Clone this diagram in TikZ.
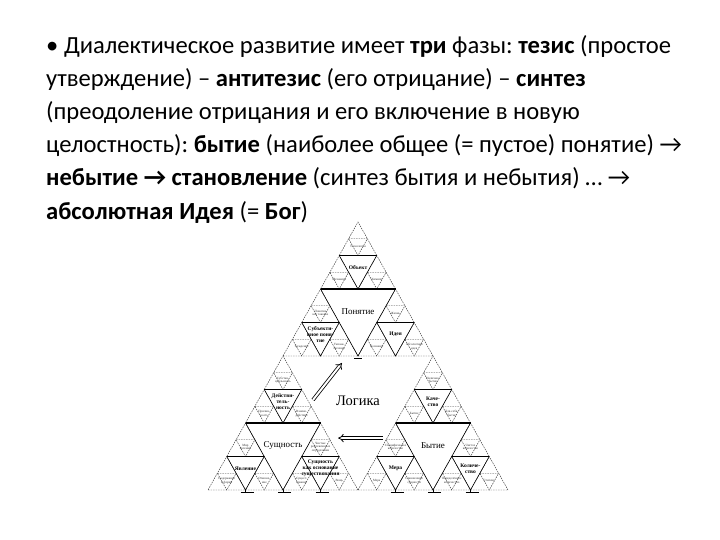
\documentclass[tikz,border=0pt]{standalone}
\usepackage{fontspec}
\setmainfont{Carlito}
\newfontfamily\serifru{Liberation Serif}
\usepackage{tikz}
\usetikzlibrary{arrows.meta}
\definecolor{gray20}{gray}{0.2}

\tikzset{
    fine/.style={dash pattern=on 1.5pt off 1pt, line width=0.45pt, color=gray20},
    side/.style={line width=0.55pt},
    topside/.style={line width=1.1pt},
    biglabel/.style={font=\serifru\fontsize{9}{9}\selectfont, inner sep=0pt},
    midlabel/.style={font=\serifru\bfseries\fontsize{5.5}{5.8}\selectfont, align=center, inner sep=0pt},
    tinylabel/.style={font=\serifru\fontsize{3.2}{3.5}\selectfont, align=center, inner sep=0pt, text=gray20},
    dblarrow/.style={double, double distance=2pt, line width=0.8pt, -{Implies}}
}

\begin{document}
\frenchspacing
\begin{tikzpicture}[x=1pt, y=1pt]
    \useasboundingbox (0,0) rectangle (720,540);

    \node[anchor=north west, inner sep=0pt, align=left,
        font=\fontsize{24.6}{33.2}\selectfont] (thesis) at (46,505)
    {• Диалектическое развитие имеет \textbf{три} фазы: \textbf{тезис} (простое\\
        утверждение) – \textbf{антитезис} (его отрицание) – \textbf{синтез}\\
        (преодоление отрицания и его включение в новую\\
        целостность): \textbf{бытие} (наиболее общее (= пустое) понятие) →\\
        \textbf{небытие → становление} (синтез бытия и небытия) … →\\
        \textbf{абсолютная Идея} (= \textbf{Бог})};

    \begin{scope}[shift={(208pt,50pt)}, x=37.5pt, y=33.5pt]

        % smallest triangles and their inner ones
        \foreach \a/\b in {0/0, 4/0, 2/4} {
                \foreach \c/\d in {0/0, 2/0, 1/2} {
                        \foreach \e/\f in {0/0, 1/0, 0.5/1} {
                                \draw[fine] (\a+\c+\e, \b+\d+\f) -- ++(1, 0) -- ++(-0.5, 1) -- cycle;
                                \draw[fine] (\a+\c+\e+0.25, \b+\d+\f+0.5) -- ++(0.5, 0) -- ++(-0.25, -0.5) -- cycle;
                            }
                    }
            }

        % second level
        \foreach \p/\q/\nm/\lab/\lowl/\lowr/\apx in {
                3/6/obj/{Объект}/{Механизм}/{Химизм}/{Телеология},
                2/4/subj/{Субъекти-\\вное поня-\\тие}/{Суждение}/{Умозак-\\лючение}/{Понятие\\как таковое},
                4/4/idea/{Идея}/{Познание}/{Абсолютная\\идея}/{Жизнь},
                1/2/real/{Действи-\\тель-\\ность}/{Причин-\\ность}/{Взаимо-\\действие}/{Субстан-\\циальность},
                0/0/appear/{Явление}/{Содержание\\и форма}/{Отноше-\\ние}/{Мир\\явлений},
                2/0/ground/{Сущность\\как основание\\существования}/{Сущест-\\вование}/{Вещь}/{Чистые\\рефлексивные\\определения},
                5/2/qual/{Каче-\\ство}/{Бытие}/{Для-себя-\\бытие}/{Наличное\\бытие},
                4/0/meas/{Мера}/{Мера}/{Становление\\сущности}/{Специфическое\\количество},
                6/0/quant/{Количе-\\ство}/{Определённое\\количество}/{Степень}/{Чистое\\количество}} {
                \draw[side] (\p+0.5, \q+1) -- (\p+1, \q) -- (\p+1.5, \q+1);
                \draw[topside] (\p+0.5, \q+1) -- (\p+1.5, \q+1);
                \node[midlabel] (\nm) at (\p+1, \q+0.64) {\lab};
                \node[tinylabel] (\nm-l) at (\p+0.5, \q+0.28) {\lowl};
                \node[tinylabel] (\nm-r) at (\p+1.5, \q+0.28) {\lowr};
                \node[tinylabel] (\nm-t) at (\p+1, \q+1.28) {\apx};
            }

        % first level
        \foreach \a/\b/\nm/\lab in {0/0/essence/Сущность, 4/0/being/Бытие, 2/4/concept/Понятие} {
                \draw[side] (\a+1, \b+2) -- (\a+2, \b) -- (\a+3, \b+2);
                \draw[topside, line width=1.3pt] (\a+1, \b+2) -- (\a+3, \b+2);
                \node[biglabel] (\nm) at (\a+2, \b+1.33) {\lab};
            }

        \node[font=\serifru\fontsize{14.5}{14.5}\selectfont, inner sep=0pt] (logic) at (4, 2.67) {Логика};

        % feet under the lower corners
        \foreach \x in {1, 2, 3, 5, 6, 7} {
                \draw[line width=0.7pt] (\x, 0) ++(-5pt, -2pt) -- ++(13pt, 0);
                \draw[line width=0.5pt] (\x, 0) -- ++(0, -2pt);
            }
        \draw[line width=0.5pt] (4, 4) ++(-4pt, -2pt) -- ++(8pt, 0);

        \coordinate (essence-out) at (2.8, 2.69);
        \coordinate (concept-in) at (3.57, 3.79);
        \coordinate (being-out) at (4.67, 1.55);
        \coordinate (essence-in) at (3.47, 1.55);
        \draw[dblarrow] (essence-out) -- (concept-in);
        \draw[dblarrow] (being-out) -- (essence-in);
    \end{scope}
\end{tikzpicture}
\end{document}
